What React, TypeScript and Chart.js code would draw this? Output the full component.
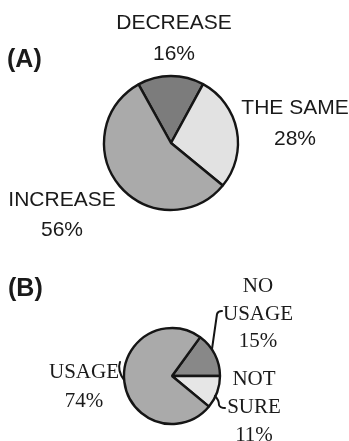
import React, { useEffect, useRef } from "react";
import { Chart, registerables } from "chart.js";
Chart.register(...registerables);

const labelsA = ["DECREASE", "THE SAME", "INCREASE"];
const valuesA = [16, 28, 56];
const colorsA = ["#7c7c7c", "#e2e2e2", "#aaaaaa"];

const labelsB = ["NO USAGE", "NOT SURE", "USAGE"];
const valuesB = [15, 11, 74];
const colorsB = ["#888888", "#e6e6e6", "#aaaaaa"];

const W = 349;
const H = 441;

type Txt = { lines: string[]; x: number; y: number; gap: number };

function textPlugin(id: string, font: string, items: Txt[], title: { t: string; x: number; y: number }, extra?: (ctx: CanvasRenderingContext2D) => void) {
  return {
    id,
    afterDraw(chart: any) {
      const ctx: CanvasRenderingContext2D = chart.ctx;
      ctx.save();
      ctx.fillStyle = "#1a1a1a";
      ctx.textBaseline = "alphabetic";
      ctx.textAlign = "left";
      ctx.font = "bold 25px 'Liberation Sans', Arial, sans-serif";
      ctx.fillText(title.t, title.x, title.y);
      ctx.font = font;
      ctx.textAlign = "center";
      items.forEach((it) => {
        it.lines.forEach((l, i) => ctx.fillText(l, it.x, it.y + i * it.gap));
      });
      if (extra) extra(ctx);
      ctx.restore();
    },
  };
}

function makePie(canvas: HTMLCanvasElement, labels: string[], values: number[], colors: string[], radius: number, rotation: number, padding: any, plugin: any) {
  return new Chart(canvas, {
    type: "pie",
    data: {
      labels,
      datasets: [
        {
          data: values,
          backgroundColor: colors,
          borderColor: "#151515",
          borderWidth: 2.4,
          radius,
        } as any,
      ],
    },
    options: {
      responsive: false,
      animation: false,
      rotation,
      layout: { padding },
      plugins: { legend: { display: false }, tooltip: { enabled: false } },
      events: [],
    },
    plugins: [plugin],
  });
}

export default function App() {
  const refA = useRef<HTMLCanvasElement>(null);
  const refB = useRef<HTMLCanvasElement>(null);

  useEffect(() => {
    const pct = (v: number) => `${v}%`;
    const pluginA = textPlugin(
      "textA",
      "21px 'Liberation Sans', Arial, sans-serif",
      [
        { lines: [labelsA[0], pct(valuesA[0])], x: 174, y: 29, gap: 31 },
        { lines: [labelsA[1], pct(valuesA[1])], x: 295, y: 114, gap: 31 },
        { lines: [labelsA[2], pct(valuesA[2])], x: 62, y: 206, gap: 30 },
      ],
      { t: "(A)", x: 7, y: 67 }
    );
    const pluginB = textPlugin(
      "textB",
      "21px 'Liberation Serif', 'Times New Roman', serif",
      [
        { lines: [...labelsB[0].split(" "), pct(valuesB[0])], x: 258, y: 292, gap: 27.5 },
        { lines: [...labelsB[1].split(" "), pct(valuesB[1])], x: 254, y: 385, gap: 28 },
        { lines: [labelsB[2], pct(valuesB[2])], x: 84, y: 378, gap: 29 },
      ],
      { t: "(B)", x: 8, y: 296 },
      (ctx) => {
        ctx.strokeStyle = "#151515";
        ctx.lineWidth = 2;
        ctx.lineCap = "round";
        ctx.beginPath();
        ctx.moveTo(212, 349);
        ctx.lineTo(217, 314);
        ctx.quadraticCurveTo(218, 311, 222, 311);
        ctx.stroke();
        ctx.beginPath();
        ctx.moveTo(215, 396);
        ctx.quadraticCurveTo(219, 400, 219, 405);
        ctx.quadraticCurveTo(220, 408, 225, 408);
        ctx.stroke();
        ctx.beginPath();
        ctx.moveTo(120, 362);
        ctx.quadraticCurveTo(117, 370, 124, 380);
        ctx.stroke();
      }
    );
    const a = makePie(refA.current!, labelsA, valuesA, colorsA, 67, -29, { left: 0, right: W - 342, top: 0, bottom: H - 286 }, pluginA);
    const b = makePie(refB.current!, labelsB, valuesB, colorsB, 48, 36, { left: 0, right: W - 344, top: 311, bottom: 0 }, pluginB);
    return () => {
      a.destroy();
      b.destroy();
    };
  }, []);

  const st: React.CSSProperties = { position: "absolute", left: 0, top: 0, width: W, height: H };
  return (
    <div style={{ position: "fixed", left: 0, top: 0, width: W, height: H, background: "#fff" }}>
      <canvas ref={refA} width={W} height={H} style={st} />
      <canvas ref={refB} width={W} height={H} style={st} />
    </div>
  );
}
